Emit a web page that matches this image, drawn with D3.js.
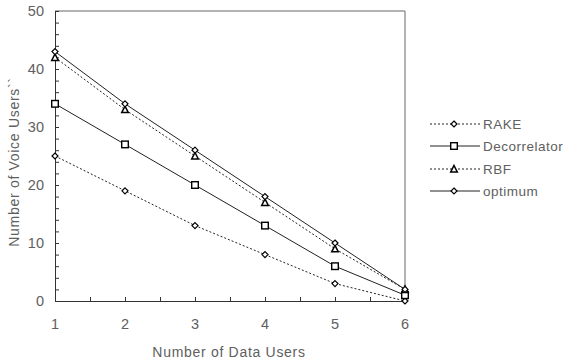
<!DOCTYPE html>
<html><head><meta charset="utf-8">
<script src="https://cdn.jsdelivr.net/npm/d3@7"></script>
<style>body{margin:0;background:#fff}svg{display:block}text{font-family:"Liberation Sans",Arial,sans-serif;fill:#606060}</style>
</head><body>
<script>
const xValues = [1, 2, 3, 4, 5, 6];
const seriesNames = ["RAKE", "Decorrelator", "RBF", "optimum"];
const rake = [25, 19, 13, 8, 3, 0];
const decorrelator = [34, 27, 20, 13, 6, 1];
const rbf = [42, 33, 25, 17, 9, 2];
const optimum = [43, 34, 26, 18, 10, 2];
const yTicks = [0, 10, 20, 30, 40, 50];
const xTicks = [1, 2, 3, 4, 5, 6];

const series = [
  {name: seriesNames[0], values: rake, dash: "2,2", marker: "diamond"},
  {name: seriesNames[1], values: decorrelator, dash: null, marker: "square"},
  {name: seriesNames[2], values: rbf, dash: "2,2", marker: "triangle"},
  {name: seriesNames[3], values: optimum, dash: null, marker: "diamond"}
];

const W = 573, H = 362;
const svg = d3.select("body").append("svg").attr("width", W).attr("height", H);
const x = d3.scaleLinear().domain([1, 6]).range([55, 405]);
const y = d3.scaleLinear().domain([0, 50]).range([301, 11]);

// frame top/right
svg.append("line").attr("x1", x(1)).attr("x2", x(6)).attr("y1", y(50)).attr("y2", y(50)).attr("stroke", "#999").attr("stroke-width", 1.5);
svg.append("line").attr("x1", x(6)).attr("x2", x(6)).attr("y1", y(50)).attr("y2", y(0)).attr("stroke", "#999").attr("stroke-width", 1.5);

// y axis
const yAxis = d3.axisLeft(y).tickValues(d3.range(0, 51, 2)).tickSize(-4).tickFormat("");
const gy = svg.append("g").attr("transform", `translate(${x(1)},0)`).call(yAxis);
gy.select(".domain").attr("stroke", "#333");
gy.selectAll(".tick line").attr("stroke", "#333");
svg.append("g").selectAll("text").data(yTicks).join("text")
  .attr("x", 44).attr("y", d => y(d)).attr("dy", "0.35em").attr("text-anchor", "end")
  .attr("font-size", 14.5).text(d => d);

// x axis
const xAxis = d3.axisBottom(x).tickValues(d3.range(1, 6.01, 0.5)).tickSize(-4).tickFormat("");
const gx = svg.append("g").attr("transform", `translate(0,${y(0)})`).call(xAxis);
gx.select(".domain").attr("stroke", "#333");
gx.selectAll(".tick line").attr("stroke", "#333");
svg.append("g").selectAll("text").data(xTicks).join("text")
  .attr("x", d => x(d)).attr("y", 324).attr("dy", "0.35em").attr("text-anchor", "middle")
  .attr("font-size", 14.5).text(d => d);

// titles
svg.append("text").attr("x", 229).attr("y", 352).attr("dy", "0.35em").attr("text-anchor", "middle")
  .attr("font-size", 14).attr("letter-spacing", 0.7).text("Number of Data Users");
svg.append("text").attr("transform", "translate(14,162) rotate(-90)").attr("dy", "0.35em").attr("text-anchor", "middle")
  .attr("font-size", 14).attr("letter-spacing", 0.7).text("Number of Voice Users``");

function drawMarker(g, type, cx, cy) {
  if (type === "diamond") {
    g.append("path").attr("d", `M${cx},${cy-3}L${cx+3},${cy}L${cx},${cy+3}L${cx-3},${cy}Z`)
      .attr("fill", "#fff").attr("stroke", "#000").attr("stroke-width", 1.2);
  } else if (type === "square") {
    g.append("rect").attr("x", cx-3.3).attr("y", cy-3.3).attr("width", 6.6).attr("height", 6.6)
      .attr("fill", "#fff").attr("stroke", "#000").attr("stroke-width", 1.4);
  } else {
    g.append("path").attr("d", `M${cx},${cy-3.5}L${cx+3.3},${cy+3}L${cx-3.3},${cy+3}Z`)
      .attr("fill", "#fff").attr("stroke", "#000").attr("stroke-width", 1.5);
  }
}

const line = d3.line().x((d, i) => x(xValues[i])).y(d => y(d));
series.forEach(s => {
  svg.append("path").attr("d", line(s.values)).attr("fill", "none").attr("stroke", "#222")
    .attr("stroke-width", 1).attr("stroke-dasharray", s.dash);
});
series.forEach(s => {
  const g = svg.append("g");
  s.values.forEach((v, i) => drawMarker(g, s.marker, x(xValues[i]), y(v)));
});

// legend
const legY = [124, 146, 169, 191];
series.forEach((s, i) => {
  const g = svg.append("g");
  g.append("line").attr("x1", 430).attr("x2", 480).attr("y1", legY[i]).attr("y2", legY[i])
    .attr("stroke", "#222").attr("stroke-width", 1).attr("stroke-dasharray", s.dash);
  drawMarker(g, s.marker, 454, legY[i]);
  g.append("text").attr("x", 483).attr("y", legY[i]).attr("dy", "0.35em").attr("font-size", 13.5)
    .attr("letter-spacing", 0.5).text(s.name);
});
</script>
</body></html>
